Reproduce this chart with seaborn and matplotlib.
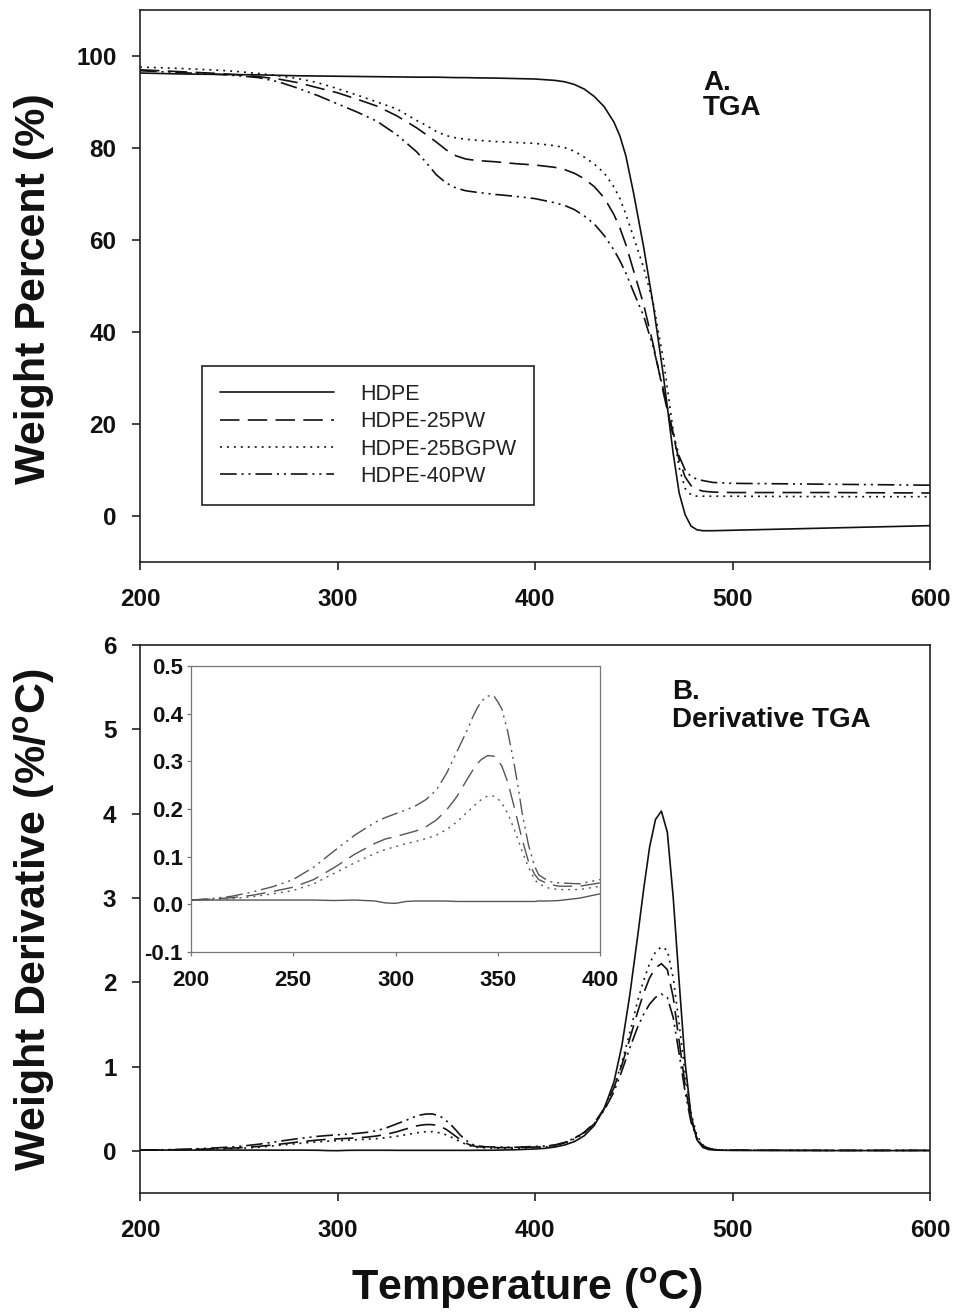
import numpy as np
import pandas as pd
import matplotlib
matplotlib.use('Agg')
import matplotlib.pyplot as plt
import seaborn as sns

# samples and line styles (dash patterns in points)
samples = ['HDPE', 'HDPE-25PW', 'HDPE-25BGPW', 'HDPE-40PW']
dash_map = {'HDPE': '', 'HDPE-25PW': (14, 6), 'HDPE-25BGPW': (1.4, 3.6),
            'HDPE-40PW': (12, 3.5, 1.5, 3.5, 1.5, 3.5)}

# TGA weight percent
T_tga = [200, 220, 240, 250, 260, 270, 280, 290, 300, 310,
         320, 330, 340, 345, 350, 355, 360, 365, 370, 380,
         390, 400, 410, 415, 420, 425, 430, 435, 440, 443,
         446, 450, 455, 460, 465, 470, 473, 476, 479, 482,
         485, 490, 500, 550, 600]
w_hdpe = [96.3, 96.1, 96.0, 95.95, 95.9, 95.8, 95.7, 95.65, 95.6, 95.55,
          95.5, 95.45, 95.4, 95.4, 95.4, 95.35, 95.3, 95.3, 95.25, 95.2,
          95.1, 95.0, 94.7, 94.4, 93.8, 92.8, 91.2, 89.0, 85.6, 82.6,
          78.3, 70.0, 58.5, 45.5, 30.5, 13.5, 5.0, 0.3, -2.2, -3.0,
          -3.2, -3.2, -3.1, -2.6, -2.1]
w_25pw = [97.0, 96.6, 96.2, 95.9, 95.5, 95.0, 94.2, 93.1, 92.0, 90.6,
          89.1, 87.0, 84.4, 82.9, 81.3, 79.6, 78.3, 77.6, 77.3, 77.0,
          76.6, 76.3, 75.8, 75.3, 74.5, 73.3, 71.6, 69.2, 65.5, 62.6,
          59.0, 53.2, 46.0, 37.0, 26.8, 17.3, 12.2, 8.5, 6.6, 5.8,
          5.4, 5.2, 5.1, 5.1, 5.0]
w_25bgpw = [97.6, 97.3, 96.9, 96.6, 96.2, 95.7, 95.1, 94.2, 92.9, 91.5,
            90.0, 88.5, 86.0, 84.9, 83.6, 82.7, 82.2, 81.9, 81.7, 81.4,
            81.2, 81.0, 80.5, 80.1, 79.3, 78.0, 76.5, 74.6, 71.5, 69.0,
            65.6, 60.5, 54.0, 46.0, 34.0, 18.5, 10.5, 6.0, 4.6, 4.3,
            4.3, 4.3, 4.3, 4.2, 4.2]
w_40pw = [96.8, 96.4, 96.0, 95.7, 95.3, 94.4, 93.0, 91.4, 89.6, 87.8,
          85.8, 82.9, 79.2, 76.8, 74.2, 72.4, 71.3, 70.7, 70.4, 69.9,
          69.5, 69.0, 68.1, 67.5, 66.6, 65.2, 63.5, 61.0, 57.8, 55.5,
          52.8, 48.6, 43.5, 36.5, 27.5, 18.0, 13.0, 10.0, 8.6, 8.0,
          7.7, 7.3, 7.1, 6.9, 6.7]

# derivative TGA (%/C)
T_dtg = [200, 210, 220, 230, 240, 250, 260, 270, 280, 290,
         295, 300, 305, 310, 315, 320, 325, 330, 335, 338,
         340, 342, 345, 348, 350, 352, 355, 358, 360, 362,
         365, 368, 370, 375, 380, 390, 400, 405, 410, 415,
         420, 425, 430, 435, 440, 444, 448, 452, 455, 458,
         461, 464, 467, 470, 473, 476, 479, 482, 485, 488,
         492, 500, 550, 600]
d_hdpe = [0.009, 0.009, 0.009, 0.009, 0.009, 0.009, 0.009, 0.008, 0.009, 0.007,
          0.003, 0.002, 0.006, 0.007, 0.007, 0.007, 0.007, 0.006, 0.006, 0.006,
          0.006, 0.006, 0.006, 0.006, 0.006, 0.006, 0.006, 0.006, 0.006, 0.006,
          0.006, 0.006, 0.007, 0.007, 0.008, 0.013, 0.022, 0.03, 0.045, 0.07,
          0.11, 0.18, 0.30, 0.50, 0.82, 1.25, 1.85, 2.55, 3.10, 3.60,
          3.93, 4.03, 3.78, 3.00, 2.00, 1.05, 0.42, 0.13, 0.04, 0.015,
          0.008, 0.005, 0.003, 0.003]
d_25pw = [0.009, 0.011, 0.014, 0.019, 0.027, 0.036, 0.052, 0.077, 0.105, 0.128,
          0.137, 0.142, 0.148, 0.154, 0.163, 0.177, 0.198, 0.226, 0.262, 0.283,
          0.295, 0.304, 0.312, 0.311, 0.303, 0.29, 0.255, 0.205, 0.17, 0.135,
          0.09, 0.063, 0.052, 0.042, 0.038, 0.038, 0.045, 0.05, 0.065, 0.095,
          0.15, 0.22, 0.33, 0.50, 0.75, 1.02, 1.33, 1.65, 1.87, 2.05,
          2.17, 2.22, 2.15, 1.82, 1.30, 0.78, 0.37, 0.15, 0.06, 0.025,
          0.012, 0.008, 0.005, 0.005]
d_25bgpw = [0.008, 0.010, 0.012, 0.016, 0.022, 0.029, 0.043, 0.065, 0.087, 0.107,
            0.115, 0.121, 0.127, 0.132, 0.138, 0.145, 0.157, 0.173, 0.193, 0.205,
            0.213, 0.22, 0.227, 0.227, 0.222, 0.212, 0.19, 0.158, 0.135, 0.11,
            0.078, 0.052, 0.043, 0.034, 0.031, 0.031, 0.038, 0.045, 0.06, 0.09,
            0.14, 0.21, 0.32, 0.50, 0.76, 1.05, 1.40, 1.78, 2.02, 2.22,
            2.36, 2.42, 2.38, 2.05, 1.50, 0.92, 0.45, 0.18, 0.07, 0.03,
            0.012, 0.008, 0.005, 0.005]
d_40pw = [0.009, 0.012, 0.017, 0.026, 0.037, 0.052, 0.078, 0.112, 0.145, 0.172,
          0.182, 0.19, 0.198, 0.207, 0.22, 0.24, 0.275, 0.32, 0.365, 0.395,
          0.412, 0.426, 0.437, 0.438, 0.425, 0.41, 0.36, 0.295, 0.245, 0.19,
          0.125, 0.08, 0.062, 0.048, 0.045, 0.043, 0.052, 0.057, 0.07, 0.10,
          0.15, 0.22, 0.32, 0.48, 0.70, 0.95, 1.22, 1.47, 1.62, 1.74,
          1.82, 1.86, 1.82, 1.58, 1.15, 0.70, 0.34, 0.14, 0.06, 0.028,
          0.013, 0.008, 0.006, 0.006]

tga = pd.concat([pd.DataFrame({'T': T_tga, 'val': v, 'sample': s})
                 for s, v in zip(samples, [w_hdpe, w_25pw, w_25bgpw, w_40pw])])
dtg = pd.concat([pd.DataFrame({'T': T_dtg, 'val': v, 'sample': s})
                 for s, v in zip(samples, [d_hdpe, d_25pw, d_25bgpw, d_40pw])])

sns.set_style('ticks')
plt.rcParams['font.family'] = ['Liberation Sans', 'DejaVu Sans']
plt.rcParams['mathtext.fontset'] = 'custom'
plt.rcParams['mathtext.rm'] = 'Liberation Sans'
plt.rcParams['mathtext.bf'] = 'Liberation Sans:bold'
plt.rcParams['lines.scale_dashes'] = False

fig = plt.figure(figsize=(9.54, 13.16), dpi=100)
W, H = 954, 1316
ax1 = fig.add_axes([140 / W, 1 - 562 / H, 790 / W, 552 / H])
ax2 = fig.add_axes([140 / W, 1 - 1193 / H, 790 / W, 548 / H])
ax3 = fig.add_axes([191 / W, 1 - 952 / H, 409 / W, 286 / H])


def style_axis(ax, size, lw=1.2, color='#222222', tlen=6, xpad=13, ypad=11):
    for sp in ax.spines.values():
        sp.set_linewidth(lw)
        sp.set_color(color)
    ax.tick_params(direction='out', length=tlen, width=lw, color=color,
                   labelsize=size, top=False, right=False)
    ax.tick_params(axis='x', pad=xpad)
    ax.tick_params(axis='y', pad=ypad)
    for lab in ax.get_xticklabels() + ax.get_yticklabels():
        lab.set_fontweight('bold')
        lab.set_color('#111111')


# A. TGA
sns.lineplot(data=tga, x='T', y='val', style='sample', style_order=samples, dashes=dash_map,
             color='#111111', linewidth=1.2, ax=ax1, legend=True)
ax1.set_xlim(200, 600)
ax1.set_ylim(-10, 110)
ax1.set_xticks([200, 300, 400, 500, 600])
ax1.set_yticks([0, 20, 40, 60, 80, 100])
ax1.set_xlabel('')
ax1.set_ylabel('')
style_axis(ax1, 17.5)
ax1.text(485, 97, 'A.\nTGA', fontsize=20, fontweight='bold', va='top', ha='left',
         linespacing=0.95, color='#111111')
handles, labels = ax1.get_legend_handles_labels()
leg = ax1.legend(handles, labels, loc='upper left', bbox_to_anchor=(62 / 790, 196 / 552),
                 borderaxespad=0, fontsize=15.5, handlelength=5.3, handletextpad=1.25,
                 labelspacing=0.3, borderpad=0.82, fancybox=False, framealpha=1,
                 edgecolor='#222222')
leg.get_frame().set_linewidth(1.2)
for t in leg.get_texts():
    t.set_color('#222222')

# B. Derivative TGA
sns.lineplot(data=dtg, x='T', y='val', style='sample', style_order=samples, dashes=dash_map,
             color='#111111', linewidth=1.2, ax=ax2, legend=False)
ax2.set_xlim(200, 600)
ax2.set_ylim(-0.5, 6)
ax2.set_xticks([200, 300, 400, 500, 600])
ax2.set_yticks([0, 1, 2, 3, 4, 5, 6])
ax2.set_xlabel('')
ax2.set_ylabel('')
style_axis(ax2, 17.5)
ax2.text(469.5, 5.6, 'B.\nDerivative TGA', fontsize=20, fontweight='bold', va='top', ha='left',
         linespacing=1.1, color='#111111')

# inset: zoom on the first step
sns.lineplot(data=dtg[dtg['T'] <= 400], x='T', y='val', style='sample', style_order=samples,
             dashes=dash_map, color='#555555', linewidth=1.0, ax=ax3, legend=False)
ax3.set_xlim(200, 400)
ax3.set_ylim(-0.1, 0.5)
ax3.set_xticks([200, 250, 300, 350, 400])
ax3.set_yticks([-0.1, 0.0, 0.1, 0.2, 0.3, 0.4, 0.5])
ax3.set_yticklabels(['-0.1', '0.0', '0.1', '0.2', '0.3', '0.4', '0.5'])
ax3.set_xlabel('')
ax3.set_ylabel('')
style_axis(ax3, 16, lw=0.9, color='#777777', tlen=3, xpad=10, ypad=3)

# axis titles
fig.text(34 / W, 1 - 289 / H, 'Weight Percent (%)', rotation=90, ha='center', va='center',
         fontsize=31, fontweight='bold', color='#111111')
fig.text(34 / W, 1 - 920 / H, r'Weight Derivative (%/$\mathbf{^{o}}$C)', rotation=90,
         ha='center', va='center', fontsize=31, fontweight='bold', color='#111111')
fig.text(527 / W, 1 - 1300 / H, r'Temperature ($\mathbf{^{o}}$C)', ha='center', va='baseline',
         fontsize=31, fontweight='bold', color='#111111')

fig.savefig('out.png', dpi=100, facecolor='white')
